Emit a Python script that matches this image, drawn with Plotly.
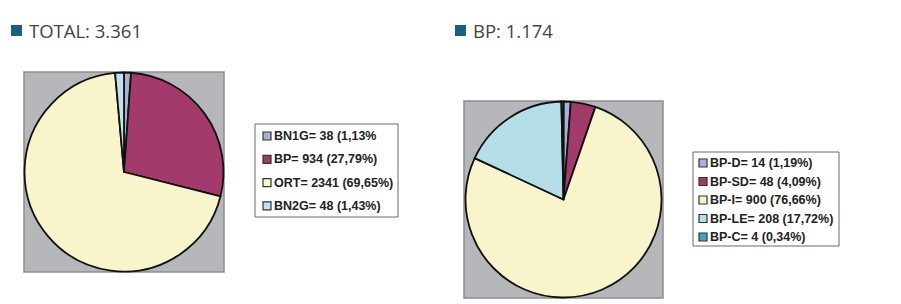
import plotly.graph_objects as go

W, H = 901, 304

# ---------------- data ----------------
total_title = "TOTAL: 3.361"
total_names = ["BN1G", "BP", "ORT", "BN2G"]
total_values = [38, 934, 2341, 48]
total_legend = ["BN1G= 38 (1,13%", "BP= 934 (27,79%)", "ORT= 2341 (69,65%)", "BN2G= 48 (1,43%)"]

bp_title = "BP: 1.174"
bp_names = ["BP-D", "BP-SD", "BP-I", "BP-LE", "BP-C"]
bp_values = [14, 48, 900, 208, 4]
bp_legend = ["BP-D= 14 (1,19%)", "BP-SD= 48 (4,09%)", "BP-I= 900 (76,66%)", "BP-LE= 208 (17,72%)", "BP-C= 4 (0,34%)"]

# ---------------- styles ----------------
total_colors = ["#a9b1d6", "#a23a6b", "#f8f4cc", "#c2e3ee"]
bp_colors = ["#a9b1d6", "#a23a6b", "#f8f4cc", "#b4dfe8", "#3aaabb"]
title_sq = "#1b5e80"
bg_gray = "#b6b7bb"


def px(x):
    return x / W


def py(y):
    return 1 - y / H


fig = go.Figure()

panels = [
    dict(names=total_names, values=total_values, colors=total_colors, legend=total_legend,
         title=total_title, sq=(11, 25), tx=27,
         box=(24, 72, 224, 272), leg=(255, 124, 398, 217), leg_x=263, leg_y0=136, leg_dy=23.3),
    dict(names=bp_names, values=bp_values, colors=bp_colors, legend=bp_legend,
         title=bp_title, sq=(455, 25), tx=471,
         box=(464, 101, 663, 298), leg=(693, 152, 839, 246), leg_x=699, leg_y0=163, leg_dy=18.5),
]

shapes = []
annotations = []
for p in panels:
    x0, y0, x1, y1 = p["box"]
    shapes.append(dict(type="rect", xref="paper", yref="paper",
                       x0=px(x0), x1=px(x1), y0=py(y1), y1=py(y0),
                       fillcolor=bg_gray, line=dict(color="#8e8f93", width=1.5), layer="below"))
    fig.add_trace(go.Pie(
        labels=p["names"], values=p["values"], sort=False, direction="clockwise", rotation=0,
        marker=dict(colors=p["colors"], line=dict(color="#111111", width=1.8)),
        textinfo="none", showlegend=False,
        domain=dict(x=[px(x0 + 0.5), px(x1 - 0.5)], y=[py(y1 - 0.5), py(y0 + 0.5)]),
    ))
    # title
    sx, sy = p["sq"]
    shapes.append(dict(type="rect", xref="paper", yref="paper",
                       x0=px(sx), x1=px(sx + 11), y0=py(sy + 11), y1=py(sy),
                       fillcolor=title_sq, line=dict(width=0)))
    annotations.append(dict(text=p["title"], xref="paper", yref="paper",
                            x=px(p["tx"]), y=py(sy + 5.5), xanchor="left", yanchor="middle",
                            showarrow=False,
                            font=dict(family="Open Sans", size=18.5, color="#444444")))
    # legend box
    lx0, ly0, lx1, ly1 = p["leg"]
    shapes.append(dict(type="rect", xref="paper", yref="paper",
                       x0=px(lx0), x1=px(lx1), y0=py(ly1), y1=py(ly0),
                       fillcolor="white", line=dict(color="#6a6a6a", width=1)))
    for i, (lab, col) in enumerate(zip(p["legend"], p["colors"])):
        cy = p["leg_y0"] + i * p["leg_dy"]
        shapes.append(dict(type="rect", xref="paper", yref="paper",
                           x0=px(p["leg_x"]), x1=px(p["leg_x"] + 8),
                           y0=py(cy + 4), y1=py(cy - 4),
                           fillcolor=col, line=dict(color="#333333", width=1.2)))
        annotations.append(dict(text="<b>" + lab + "</b>", xref="paper", yref="paper",
                                x=px(p["leg_x"] + 9), y=py(cy), xanchor="left", yanchor="middle",
                                showarrow=False,
                                font=dict(family="Liberation Sans, Arial", size=12.5, color="#222222")))

fig.update_layout(
    width=W, height=H, margin=dict(l=0, r=0, t=0, b=0),
    paper_bgcolor="white", plot_bgcolor="white",
    shapes=shapes, annotations=annotations, showlegend=False,
)

fig.write_html("out.html")
